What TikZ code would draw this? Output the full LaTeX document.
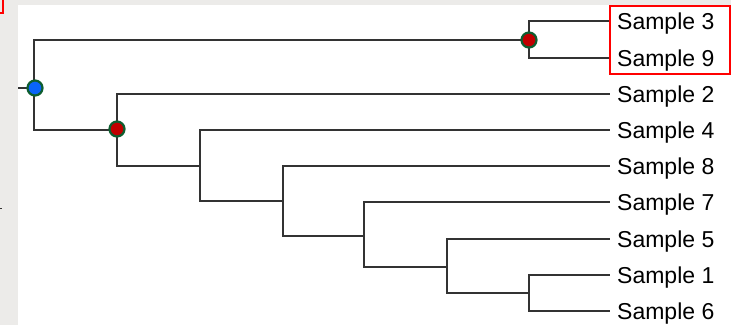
\documentclass[tikz,border=0pt]{standalone}
\usepackage{fontspec}
\setmainfont{Liberation Sans}
\definecolor{bggray}{HTML}{ECEBE9}
\definecolor{ringgreen}{HTML}{0E5E30}
\definecolor{dotblue}{HTML}{0A64FA}
\definecolor{dotred}{HTML}{C00000}
\definecolor{branchcol}{HTML}{333333}
\begin{document}
\begin{tikzpicture}[x=1pt,y=-1pt,
  branch/.style={draw=branchcol, line width=1.3pt},
  leaf/.style={anchor=west, inner xsep=7pt, inner ysep=0pt, text height=16pt, text depth=0pt,
    font=\fontsize{23}{26}\selectfont},
  dot/.style={circle, draw=ringgreen, line width=2.2pt, minimum size=15pt, inner sep=0pt},
  highlight/.style={draw=red, line width=2pt}]
\fill[bggray] (0,0) rectangle (731,325);
\fill[white] (18,5) rectangle (731,325);
\useasboundingbox (0,0) rectangle (731,325);
% edge artifacts
\draw[red, line width=2pt] (0,12.5) -- (3,12.5) -- (3,0);
\draw[branchcol, line width=1pt] (0,208) -- (2,208);
% leaves
\node[leaf] (s3) at (610,21) {Sample 3};
\node[leaf] (s9) at (610,58) {Sample 9};
\node[leaf] (s2) at (610,94) {Sample 2};
\node[leaf] (s4) at (610,130) {Sample 4};
\node[leaf] (s8) at (610,166) {Sample 8};
\node[leaf] (s7) at (610,202) {Sample 7};
\node[leaf] (s5) at (610,239) {Sample 5};
\node[leaf] (s1) at (610,275) {Sample 1};
\node[leaf] (s6) at (610,311) {Sample 6};
% internal nodes
\coordinate (stem) at (18,88);
\coordinate (r) at (34,88);
\coordinate (n39) at (529,40);
\coordinate (nA) at (117,130);
\coordinate (nB) at (200,166);
\coordinate (nC) at (283,201);
\coordinate (nD) at (364,236);
\coordinate (nE) at (447,267);
\coordinate (nF) at (529,293);
% branches
\draw[branch] (stem) -- (r);
\draw[branch] (r) |- (n39);
\draw[branch] (r) |- (nA);
\draw[branch] (n39) |- (s3.west);
\draw[branch] (n39) |- (s9.west);
\draw[branch] (nA) |- (s2.west);
\draw[branch] (nA) |- (nB);
\draw[branch] (nB) |- (s4.west);
\draw[branch] (nB) |- (nC);
\draw[branch] (nC) |- (s8.west);
\draw[branch] (nC) |- (nD);
\draw[branch] (nD) |- (s7.west);
\draw[branch] (nD) |- (nE);
\draw[branch] (nE) |- (s5.west);
\draw[branch] (nE) |- (nF);
\draw[branch] (nF) |- (s1.west);
\draw[branch] (nF) |- (s6.west);
% markers
\node[dot, fill=dotblue] (mr) at (35,88) {};
\node[dot, fill=dotred] (m39) at (529,40) {};
\node[dot, fill=dotred] (mA) at (117,129) {};
% highlight box
\draw[highlight] (610,6) rectangle (729.5,74);
\end{tikzpicture}
\end{document}
